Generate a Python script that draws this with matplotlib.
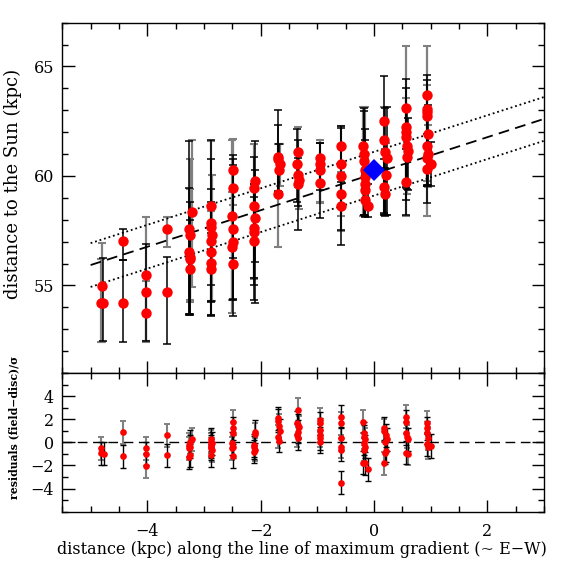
import matplotlib
matplotlib.use("Agg")
import matplotlib.pyplot as plt
from matplotlib.ticker import MultipleLocator
import numpy as np

plt.rcParams['font.family'] = ['DejaVu Serif']
plt.rcParams['mathtext.fontset'] = 'dejavuserif'

# ---------------- top panel data: distance vs position ----------------
pos_x = [-4.82, -4.78, -4.80,
         -4.42, -4.42,
         -4.03, -4.03, -4.03,
         -3.65, -3.65,
         -3.21, -3.26, -3.25, -3.26, -3.25, -3.24, -3.25,
         -2.87, -2.88, -2.87, -2.86, -2.88, -2.87, -2.87, -2.88,
         -2.48, -2.49, -2.50, -2.49, -2.48, -2.50, -2.49,
         -2.10, -2.11, -2.12, -2.10, -2.11, -2.12, -2.11,
         -1.70, -1.69, -1.66, -1.68, -1.69,
         -1.34, -1.35, -1.34, -1.33, -1.34,
         -0.95, -0.96, -0.95, -0.95,
         -0.58, -0.58, -0.58, -0.58, -0.58,
         -0.19, -0.18, -0.17, -0.16, -0.15, -0.16, -0.15, -0.15, -0.10,
         0.18, 0.18, 0.20, 0.23, 0.22, 0.18, 0.19,
         0.56, 0.56, 0.57, 0.56, 0.58, 0.60, 0.59, 0.57,
         0.93, 0.93, 0.94, 0.93, 0.95, 0.94, 0.96, 0.93, 1.00, 0.93]
dist_y = [54.21, 54.21, 54.97,
          57.02, 54.21,
          55.47, 54.70, 53.72,
          57.56, 54.70,
          58.35, 57.56, 57.28, 56.52, 56.32, 56.22, 55.76,
          58.61, 57.85, 57.66, 57.28, 57.05, 56.52, 56.02, 55.76,
          60.25, 59.44, 58.15, 57.59, 56.98, 56.75, 55.99,
          59.76, 59.44, 58.61, 58.09, 57.63, 57.43, 57.02,
          60.86, 60.79, 60.56, 60.25, 59.16,
          61.09, 60.53, 60.02, 59.80, 59.64,
          60.82, 60.55, 60.25, 59.69,
          61.36, 60.53, 59.98, 59.16, 58.61,
          61.36, 61.01, 60.70, 60.25, 59.95, 59.64, 59.38, 58.88, 58.61,
          62.50, 61.65, 61.09, 60.83, 60.02, 59.49, 59.16,
          63.10, 62.23, 62.00, 61.77, 61.39, 61.16, 60.86, 59.72,
          63.68, 63.07, 62.90, 62.76, 61.93, 61.35, 61.01, 60.83, 60.53, 60.33]
err_lo = [1.80, 1.75, 2.55,
          0.85, 1.80,
          3.00, 2.25, 1.30,
          0.80, 2.36,
          3.43, 3.85, 2.96, 2.89, 2.08, 2.52, 2.11,
          3.61, 3.57, 4.04, 2.98, 3.40, 2.22, 2.37, 1.51,
          1.60, 3.20, 4.40, 3.20, 3.40, 2.40, 1.65,
          3.70, 4.14, 4.26, 3.90, 2.30, 2.10, 2.00,
          1.60, 1.50, 1.00, 1.00, 2.41,
          1.60, 1.73, 2.51, 1.30, 1.00,
          2.06, 1.20, 2.16, 0.90,
          0.90, 3.05, 3.15, 1.00, 1.10,
          3.20, 2.80, 2.50, 2.10, 1.80, 1.50, 1.20, 0.70, 0.50,
          4.30, 3.40, 2.90, 2.60, 1.80, 1.20, 0.95,
          4.95, 3.35, 2.50, 2.30, 2.00, 1.80, 1.70, 1.50,
          5.50, 4.30, 3.30, 3.00, 2.36, 1.80, 1.50, 1.30, 1.00, 0.80]
err_hi = [2.00, 2.05, 1.96,
          0.54, 1.95,
          2.65, 2.20, 1.50,
          0.56, 1.62,
          3.30, 4.02, 3.51, 2.94, 3.10, 2.58, 2.24,
          3.04, 3.75, 3.13, 2.74, 2.37, 2.28, 2.38, 1.64,
          1.45, 1.50, 3.50, 3.20, 3.50, 2.50, 2.10,
          1.82, 2.03, 2.25, 2.16, 2.00, 2.20, 2.00,
          2.13, 1.52, 0.91, 1.20, 2.30,
          1.14, 1.60, 1.60, 1.30, 1.20,
          0.80, 0.97, 1.27, 0.90,
          0.91, 1.74, 2.20, 1.00, 1.10,
          1.78, 1.95, 2.40, 2.90, 2.20, 2.00, 1.40, 1.20, 1.00,
          2.06, 1.49, 2.00, 2.30, 1.50, 1.30, 1.20,
          2.83, 2.21, 2.00, 1.80, 1.70, 1.50, 1.40, 1.50,
          2.25, 1.55, 1.50, 1.40, 1.30, 1.40, 1.30, 1.10, 1.00, 1.00]
# 1 = grey error bar, 0 = black error bar
top_grey = [1, 0, 1,
            0, 0,
            1, 0, 1,
            1, 0,
            1, 0, 1, 0, 1, 0, 0,
            0, 1, 0, 1, 0, 0, 1, 0,
            1, 0, 1, 0, 0, 1, 0,
            0, 1, 0, 0, 1, 0, 0,
            0, 0, 1, 0, 1,
            1, 0, 0, 1, 0,
            1, 0, 0, 1,
            0, 1, 0, 1, 0,
            1, 0, 0, 1, 0, 0, 1, 0, 0,
            0, 1, 0, 0, 1, 0, 0,
            1, 0, 0, 1, 0, 0, 1, 0,
            1, 0, 0, 1, 0, 0, 1, 0, 0, 1]

# reference field (blue diamond)
ref_x = [0.0]
ref_y = [60.25]

# fitted disc model: distance = intercept + slope * x (dotted: +/- 1 kpc)
fit_intercept = 60.10
fit_slope = 0.834
fit_band = 1.0
fit_range = [-5.0, 3.0]

# ---------------- bottom panel data: residuals ----------------
res_x = [-4.81, -4.82, -4.77,
         -4.42, -4.42,
         -4.03, -4.03, -4.03,
         -3.65, -3.65,
         -3.21, -3.25, -3.26, -3.24, -3.26, -3.25, -3.26,
         -2.87, -2.88, -2.86, -2.87, -2.88, -2.87, -2.86, -2.88,
         -2.48, -2.48, -2.49, -2.50, -2.49, -2.50, -2.49,
         -2.10, -2.09, -2.11, -2.12, -2.10, -2.11,
         -1.70, -1.70, -1.67, -1.66, -1.69, -1.68,
         -1.34, -1.35, -1.34, -1.33, -1.34, -1.35, -1.34,
         -0.95, -0.96, -0.95, -0.95, -0.96, -0.95,
         -0.58, -0.58, -0.58, -0.58, -0.58, -0.58,
         -0.19, -0.18, -0.17, -0.16, -0.18, -0.15, -0.17, -0.19, -0.16, -0.10,
         0.18, 0.18, 0.21, 0.23, 0.20, 0.22, 0.19, 0.18,
         0.56, 0.56, 0.57, 0.58, 0.60, 0.56, 0.60,
         0.93, 0.93, 0.94, 0.95, 0.93, 1.00, 0.96]
res_y = [-0.52, -0.95, -1.00,
         0.87, -1.21,
         -0.52, -1.00, -2.05,
         0.60, -1.13,
         0.28, 0.05, -0.23, -0.38, -0.52, -1.13, -1.30,
         0.25, 0.05, -0.10, -0.23, -0.38, -0.52, -0.70, -1.13,
         1.80, 1.20, 0.77, -0.08, -0.38, -0.52, -1.19,
         0.90, 0.70, -0.25, -0.45, -0.65, -0.80,
         2.08, 1.87, 1.41, 1.00, 0.48, 0.14,
         2.80, 1.69, 1.49, 1.29, 0.91, 0.62, 0.34,
         1.93, 1.64, 1.06, 0.62, 0.34, 0.05,
         2.22, 1.64, 0.34, -0.38, -0.66, -3.50,
         1.78, 0.80, 0.48, 0.25, -0.10, -0.38, -0.66, -1.76, -1.80, -2.34,
         1.20, 1.00, 0.62, 0.25, 0.05, -0.72, -0.90, -1.82,
         2.22, 1.78, 0.80, 0.48, 0.25, -0.90, -1.00,
         1.69, 1.20, 0.83, 0.34, -0.15, -0.32, -0.43]
res_err = 1.0
res_grey = [1, 0, 0,
            1, 0,
            1, 0, 1,
            1, 0,
            1, 0, 1, 0, 1, 0, 0,
            0, 1, 0, 1, 0, 0, 1, 0,
            1, 0, 1, 0, 0, 1, 0,
            0, 1, 0, 0, 1, 0,
            0, 0, 1, 0, 1, 0,
            1, 0, 0, 1, 0, 1, 0,
            1, 0, 0, 1, 0, 0,
            0, 1, 0, 1, 0, 0,
            1, 0, 0, 1, 0, 0, 1, 0, 0, 0,
            0, 1, 0, 0, 1, 0, 0, 1,
            1, 0, 0, 1, 0, 0, 1,
            1, 0, 0, 1, 0, 0, 1]

top_ylim = (51, 67)
bot_ylim = (-6, 6)
xlim = (-5.5, 3.0)
x_ticks = [-4, -2, 0, 2]
top_yticks = [55, 60, 65]
bot_yticks = [-4, -2, 0, 2, 4]

xlabel = "distance (kpc) along the line of maximum gradient (~ E\u2212W)"
ylabel_top = "distance to the Sun (kpc)"
ylabel_bot = "residuals (field\u2212disc)/\u03c3"

GREY = "#808080"

fig = plt.figure(figsize=(5.74, 5.74), dpi=100)
ax1 = fig.add_axes([0.1085, 0.3502, 0.839, 0.6103])
ax2 = fig.add_axes([0.1085, 0.1087, 0.839, 0.2415])

# ---- top panel ----
px = np.array(pos_x); py = np.array(dist_y)
lo = np.array(err_lo); hi = np.array(err_hi); g = np.array(top_grey) == 1
ax1.errorbar(px[g], py[g], yerr=[lo[g], hi[g]], fmt='none', ecolor=GREY,
             elinewidth=1.6, capsize=3.2, capthick=1.5, zorder=2)
ax1.errorbar(px[~g], py[~g], yerr=[lo[~g], hi[~g]], fmt='none', ecolor='black',
             elinewidth=1.1, capsize=3.2, capthick=1.1, zorder=3)
ax1.plot(px, py, 'o', color='#ff0000', markersize=7.5, markeredgewidth=0, zorder=4)

xf = np.array(fit_range)
yf = fit_intercept + fit_slope * xf
ax1.plot(xf, yf, color='black', lw=1.3, linestyle=(0, (6, 3.5)), zorder=3)
ax1.plot(xf, yf + fit_band, color='black', lw=1.3, linestyle=(0, (1, 1.6)), zorder=3)
ax1.plot(xf, yf - fit_band, color='black', lw=1.3, linestyle=(0, (1, 1.6)), zorder=3)
ax1.plot(ref_x, ref_y, 'D', color='#0000ff', markersize=11, markeredgewidth=0, zorder=5)

ax1.set_xlim(*xlim)
ax1.set_ylim(*top_ylim)
ax1.set_yticks(top_yticks)
ax1.yaxis.set_minor_locator(MultipleLocator(1))
ax1.set_xticks(x_ticks)
ax1.xaxis.set_minor_locator(MultipleLocator(0.5))
ax1.tick_params(labelbottom=False)

# ---- bottom panel ----
rx = np.array(res_x); ry = np.array(res_y); rg = np.array(res_grey) == 1
ax2.axhline(0, color='black', lw=1.0, linestyle=(0, (7, 4)), zorder=1)
ax2.errorbar(rx[rg], ry[rg], yerr=res_err, fmt='none', ecolor=GREY,
             elinewidth=1.5, capsize=2.5, capthick=1.4, zorder=2)
ax2.errorbar(rx[~rg], ry[~rg], yerr=res_err, fmt='none', ecolor='black',
             elinewidth=1.0, capsize=2.5, capthick=1.0, zorder=3)
ax2.plot(rx, ry, 'o', color='#ff0000', markersize=4.8, markeredgewidth=0, zorder=4)

ax2.set_xlim(*xlim)
ax2.set_ylim(*bot_ylim)
ax2.set_yticks(bot_yticks)
ax2.yaxis.set_minor_locator(MultipleLocator(1))
ax2.set_xticks(x_ticks)
ax2.xaxis.set_minor_locator(MultipleLocator(0.5))

for ax in (ax1, ax2):
    for s in ax.spines.values():
        s.set_linewidth(1.0)
    ax.tick_params(which='both', direction='in', top=True, right=True,
                   width=1.0, labelsize=11.5, pad=6)
    ax.tick_params(which='major', length=9)
    ax.tick_params(which='minor', length=4.5)
ax2.tick_params(axis='x', pad=8)

fig.text(0.526, 0.028, xlabel, ha='center', va='bottom', fontsize=11.5)
fig.text(0.023, 0.68, ylabel_top, rotation=90, ha='center', va='center', fontsize=13)
fig.text(0.024, 0.256, ylabel_bot, rotation=90, ha='center', va='center',
         fontsize=7.8, fontweight='bold')

fig.savefig("out.png", dpi=100)
